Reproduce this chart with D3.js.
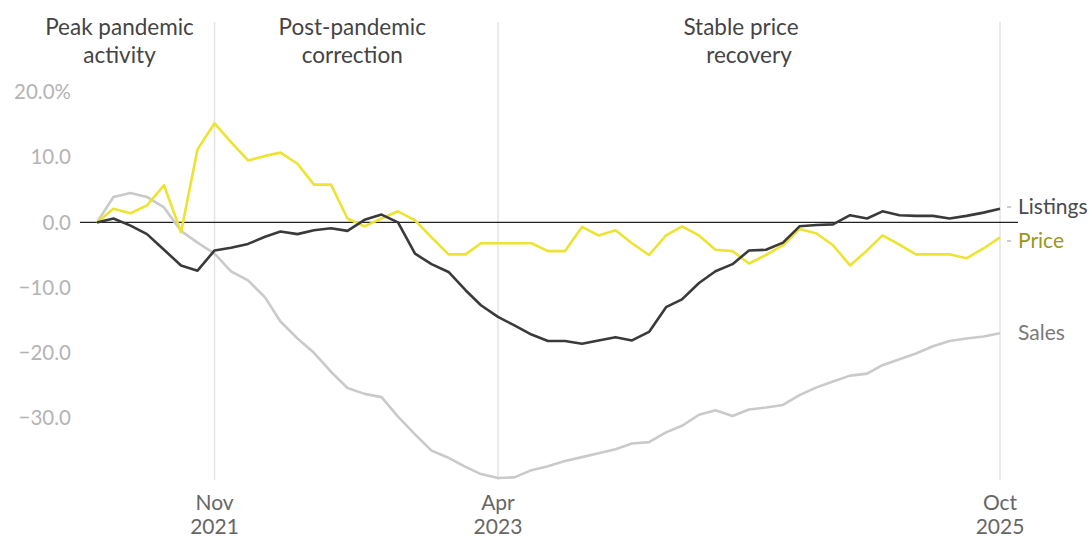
<!DOCTYPE html>
<html><head><meta charset="utf-8">
<script src="https://cdn.jsdelivr.net/npm/d3@7"></script>
<style>
html,body{margin:0;padding:0;background:#fff;}
svg{display:block;font-family:Lato,"Open Sans",sans-serif;}
</style></head>
<body><svg id="c" width="1091" height="537"></svg>
<script>
// Monthly data, Apr 2021 .. Oct 2025 (% change)
const startMonth = "2021-04";
const endMonth = "2025-10";
const price = [0,2.1,1.4,2.6,5.7,-1.5,11.2,15.2,12.3,9.5,10.2,10.7,9.0,5.8,5.8,0.6,-0.6,0.6,1.7,0.3,-2.3,-4.9,-4.9,-3.2,-3.2,-3.2,-3.2,-4.4,-4.4,-0.7,-2.0,-1.2,-3.2,-5.0,-2.0,-0.6,-2.0,-4.2,-4.4,-6.3,-5.0,-3.5,-1.0,-1.7,-3.5,-6.6,-4.3,-2.0,-3.4,-4.9,-4.9,-4.9,-5.5,-4.0,-2.3];
const listings = [0,0.6,-0.5,-1.8,-4.2,-6.6,-7.4,-4.3,-3.9,-3.3,-2.2,-1.4,-1.8,-1.2,-0.9,-1.3,0.4,1.2,0.0,-4.8,-6.4,-7.6,-10.4,-12.7,-14.5,-15.8,-17.2,-18.2,-18.2,-18.6,-18.1,-17.6,-18.1,-16.8,-13.0,-11.8,-9.3,-7.5,-6.4,-4.3,-4.2,-3.1,-0.6,-0.4,-0.3,1.1,0.6,1.7,1.1,1.0,1.0,0.6,1.0,1.5,2.1];
const sales = [0,3.9,4.5,3.9,2.3,-1.3,-3.1,-4.8,-7.5,-8.9,-11.5,-15.2,-17.8,-20.0,-22.9,-25.4,-26.3,-26.8,-29.8,-32.5,-35.0,-36.1,-37.5,-38.6,-39.2,-39.1,-38.0,-37.4,-36.6,-36.0,-35.4,-34.8,-33.9,-33.7,-32.2,-31.2,-29.5,-28.8,-29.7,-28.7,-28.4,-28.0,-26.5,-25.3,-24.4,-23.5,-23.2,-21.9,-21.0,-20.1,-19.0,-18.2,-17.8,-17.5,-17.0];
const yTicks = [20,10,0,-10,-20,-30];
const xTickDates = ["2021-11","2023-04","2025-10"];
const xTickLabels = [["Nov","2021"],["Apr","2023"],["Oct","2025"]];
const phaseLabels = [["Peak pandemic","activity"],["Post-pandemic","correction"],["Stable price","recovery"]];
const seriesNames = ["Listings","Price","Sales"];

const parse = d3.timeParse("%Y-%m");
const t0 = parse(startMonth), t1 = parse(endMonth);
const months = d3.timeMonth.range(t0, d3.timeMonth.offset(t1,1));

const svg = d3.select("#c");
const x = d3.scaleTime().domain([t0,t1]).range([97,1000]);
const y = d3.scaleLinear().domain([-30,20]).range([418,92]);

// vertical phase lines
const vdates = xTickDates.map(parse);
svg.append("g").selectAll("line").data(vdates).join("line")
  .attr("x1",d=>x(d)).attr("x2",d=>x(d)).attr("y1",22).attr("y2",480)
  .attr("stroke","#e4e4e4").attr("stroke-width",1.5);

// y tick labels
svg.append("g").selectAll("text").data(yTicks).join("text")
  .attr("x",71).attr("y",d=>y(d)).attr("dy","0.35em")
  .attr("text-anchor","end").attr("fill","#b4b4b4").attr("font-size",20.5)
  .text((d,i)=> (d<0?"\u2212":"") + Math.abs(d).toFixed(1) + (i===0?"%":""));

// zero line
svg.append("line").attr("x1",80).attr("x2",1018).attr("y1",y(0)).attr("y2",y(0))
  .attr("stroke","#222").attr("stroke-width",1.2);

const line = d3.line().x((d,i)=>x(months[i])).y(d=>y(d));
const series = [
  {name:"Sales", vals:sales, color:"#cacaca"},
  {name:"Price", vals:price, color:"#ede331"},
  {name:"Listings", vals:listings, color:"#3a3a3a"}
];
svg.append("g").selectAll("path").data(series).join("path")
  .attr("d",d=>line(d.vals)).attr("fill","none")
  .attr("stroke",d=>d.color).attr("stroke-width",2.6)
  .attr("stroke-linejoin","round");

// end labels
const labelInfo = [
  {name:seriesNames[0], ly:207, color:"#4a4a4a", conn:true},
  {name:seriesNames[1], ly:241, color:"#9a9620", conn:true},
  {name:seriesNames[2], ly:333, color:"#7a7a7a", conn:false}
];
const lg = svg.append("g");
labelInfo.forEach(l=>{
  if(l.conn){
    lg.append("line").attr("x1",x(t1)+7).attr("x2",x(t1)+11)
      .attr("y1",l.ly).attr("y2",l.ly).attr("stroke","#999").attr("stroke-width",1);
  }
  lg.append("text").attr("x",1018).attr("y",l.ly).attr("dy","0.35em")
    .attr("fill",l.color).attr("font-size",21).text(l.name);
});

// x axis labels
const xg = svg.append("g");
vdates.forEach((d,i)=>{
  const t = xg.append("text").attr("x",x(d)).attr("text-anchor","middle")
    .attr("fill","#666").attr("font-size",21);
  t.append("tspan").attr("x",x(d)).attr("y",510).text(xTickLabels[i][0]);
  t.append("tspan").attr("x",x(d)).attr("y",534).text(xTickLabels[i][1]);
});

// phase labels (centered between phase lines)
const centers = [x(vdates[0]) - 95, (x(vdates[0])+x(vdates[1]))/2 - 4, (x(vdates[1])+x(vdates[2]))/2 - 8];
const pg = svg.append("g");
phaseLabels.forEach((p,i)=>{
  const t = pg.append("text").attr("text-anchor","middle").attr("fill","#444").attr("font-size",22.5);
  t.append("tspan").attr("x",centers[i]).attr("y",35).text(p[0]);
  t.append("tspan").attr("x",centers[i]+(i===2?8:0)).attr("y",63).text(p[1]);
});
</script></body></html>
